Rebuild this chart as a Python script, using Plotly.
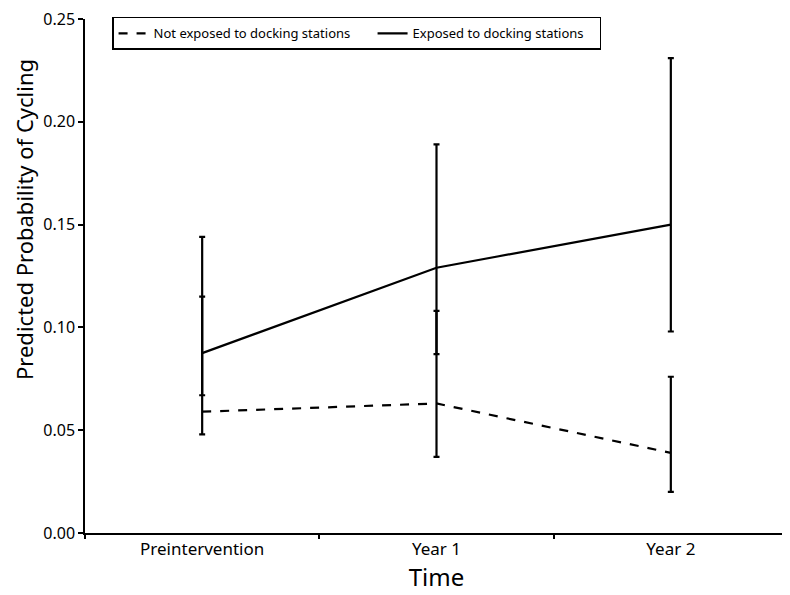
import plotly.graph_objects as go

categories = ["Preintervention", "Year 1", "Year 2"]

not_exposed = [0.059, 0.063, 0.039]
not_exposed_lo = [0.048, 0.037, 0.020]
not_exposed_hi = [0.115, 0.108, 0.076]

exposed = [0.0875, 0.129, 0.150]
exposed_lo = [0.067, 0.087, 0.098]
exposed_hi = [0.144, 0.189, 0.231]

y_ticks = [0.00, 0.05, 0.10, 0.15, 0.20, 0.25]

FONT = "Noto Sans"

def err(vals, lo, hi):
    return dict(type="data", symmetric=False,
                array=[h - v for v, h in zip(vals, hi)],
                arrayminus=[v - l for v, l in zip(vals, lo)],
                color="black", thickness=2.2, width=3)

fig = go.Figure()
fig.add_trace(go.Scatter(
    x=categories, y=not_exposed, mode="lines",
    name="Not exposed to docking stations",
    line=dict(color="black", width=2.2, dash="dash"),
    error_y=err(not_exposed, not_exposed_lo, not_exposed_hi),
    legendwidth=214,
))
fig.add_trace(go.Scatter(
    x=categories, y=exposed, mode="lines",
    name="Exposed to docking stations",
    line=dict(color="black", width=2.2),
    error_y=err(exposed, exposed_lo, exposed_hi),
    legendwidth=182,
))

fig.update_layout(
    width=790, height=595,
    margin=dict(l=77, r=10, t=11, b=70, autoexpand=False),
    paper_bgcolor="white", plot_bgcolor="white",
    font=dict(family=FONT, color="black"),
    showlegend=True,
    legend=dict(
        orientation="h", x=0.0385, y=1.004, xanchor="left", yanchor="top",
        bordercolor="black", borderwidth=1.5, bgcolor="white",
        font=dict(size=13, family=FONT),
    ),
    xaxis=dict(
        type="category", range=[-0.5, 2.5], automargin=False,
        showline=True, linecolor="black", linewidth=1.5,
        ticks="outside", tickson="boundaries", ticklen=4, tickcolor="black", tickwidth=1.5,
        tickfont=dict(size=17), showgrid=False, zeroline=False,
        title=dict(text="Time", font=dict(size=24), standoff=2),
    ),
    yaxis=dict(
        range=[0, 0.25], tickvals=y_ticks, tickformat=".2f", automargin=False,
        ticklabeloverflow="allow",
        showline=True, linecolor="black", linewidth=1.5,
        ticks="outside", ticklen=5, tickcolor="black", tickwidth=1.5,
        tickfont=dict(size=16), showgrid=False, zeroline=False,
    ),
    annotations=[dict(
        text="Predicted Probability of Cycling", textangle=-90,
        xref="paper", yref="paper", x=-0.1095, y=0.609,
        xanchor="left", yanchor="middle", showarrow=False, borderpad=0,
        font=dict(size=22, family=FONT, color="black"),
    )],
)

fig.write_html("out.html")
